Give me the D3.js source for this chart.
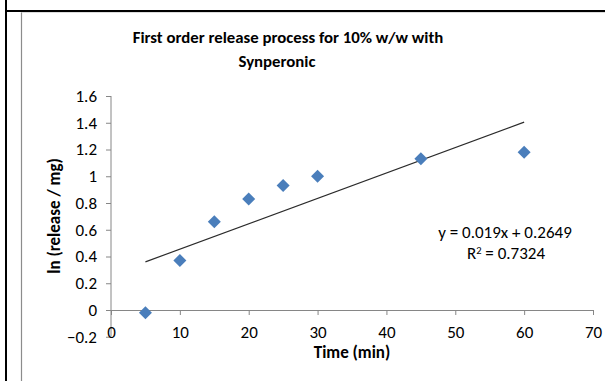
<!DOCTYPE html>
<html>
<head>
<meta charset="utf-8">
<script src="https://cdn.jsdelivr.net/npm/d3@7"></script>
<style>
  html, body { margin: 0; padding: 0; background: #fff; }
  svg { display: block; }
  text { font-family: Calibri, Carlito, Lato, "Open Sans", sans-serif; fill: #000; }
</style>
</head>
<body>
<svg id="chart" width="605" height="381"></svg>
<script>
// Release data: time (min) vs ln(release / mg)
const timeMin = [5, 10, 15, 20, 25, 30, 45, 60];
const lnRelease = [-0.02, 0.37, 0.66, 0.83, 0.93, 1.00, 1.13, 1.18];

// Linear trendline reported on the chart
const slope = 0.019;
const intercept = 0.2649;
const rSquared = 0.7324;

const xTicks = [0, 10, 20, 30, 40, 50, 60, 70];
const yTicks = [-0.2, 0, 0.2, 0.4, 0.6, 0.8, 1, 1.2, 1.4, 1.6];

const titleLines = ["First order release process for 10% w/w with", "Synperonic"];
const xTitle = "Time (min)";
const yTitle = "ln (release / mg)";

const fontStack = "Calibri, Carlito, Lato, sans-serif";
const labelSize = 17;

const svg = d3.select("#chart");

// Page frame lines
svg.append("line").attr("x1", 6).attr("x2", 6).attr("y1", 0).attr("y2", 381)
  .attr("stroke", "#000").attr("stroke-width", 2);
svg.append("line").attr("x1", 5).attr("x2", 605).attr("y1", 11).attr("y2", 11)
  .attr("stroke", "#000").attr("stroke-width", 2);
// Chart area border
svg.append("line").attr("x1", 21.5).attr("x2", 21.5).attr("y1", 12).attr("y2", 381)
  .attr("stroke", "#8c8c8c").attr("stroke-width", 1.2);
svg.append("line").attr("x1", 21.5).attr("x2", 605).attr("y1", 12.5).attr("y2", 12.5)
  .attr("stroke", "#dcdcdc").attr("stroke-width", 1);

const x = d3.scaleLinear().domain([0, 70]).range([111, 593]);
const y = d3.scaleLinear().domain([-0.2, 1.6]).range([336.75, 96]);

const axisColor = "#868686";

// Y axis at x = 0
const yAxis = svg.append("g").attr("transform", `translate(${x(0)},0)`)
  .call(d3.axisLeft(y).tickValues(yTicks).tickSize(5).tickPadding(9)
    .tickFormat(d => d3.format("")(+d.toFixed(1))));
yAxis.select(".domain").attr("stroke", axisColor).attr("d", `M0,${y(-0.2)}V${y(1.6)}`);
yAxis.selectAll(".tick line").attr("stroke", axisColor);
yAxis.selectAll(".tick text").attr("font-size", labelSize).attr("fill", "#000")
  .style("font-family", fontStack);

// X axis along y = 0, labels placed low
const xAxis = svg.append("g").attr("transform", `translate(0,${y(0)})`)
  .call(d3.axisBottom(x).tickValues(xTicks).tickSize(5).tickPadding(11).tickSizeOuter(0));
xAxis.select(".domain").attr("stroke", axisColor);
xAxis.selectAll(".tick line").attr("stroke", axisColor);
xAxis.selectAll(".tick text").attr("font-size", labelSize).attr("fill", "#000")
  .style("font-family", fontStack);

// Trendline
svg.append("line")
  .attr("x1", x(timeMin[0])).attr("y1", y(slope * timeMin[0] + intercept))
  .attr("x2", x(timeMin[timeMin.length - 1])).attr("y2", y(slope * timeMin[timeMin.length - 1] + intercept))
  .attr("stroke", "#2b2b2b").attr("stroke-width", 1.2);

// Diamond markers
const diamond = "M0,-6.5L6.5,0L0,6.5L-6.5,0Z";
svg.append("g").selectAll("path").data(timeMin).join("path")
  .attr("d", diamond)
  .attr("transform", (d, i) => `translate(${x(d)},${y(lnRelease[i])})`)
  .attr("fill", "#4a7ebb");

// Title
svg.append("text").attr("x", 288).attr("y", 43).attr("text-anchor", "middle")
  .attr("font-size", 16.8).attr("font-weight", "bold").text(titleLines[0]);
svg.append("text").attr("x", 277).attr("y", 67).attr("text-anchor", "middle")
  .attr("font-size", 16.8).attr("font-weight", "bold").text(titleLines[1]);

// Axis titles
svg.append("text").attr("x", 352).attr("y", 358).attr("text-anchor", "middle")
  .attr("font-size", labelSize).attr("font-weight", "bold").text(xTitle);
svg.append("text").attr("transform", "translate(60,216) rotate(-90)")
  .attr("text-anchor", "middle").attr("font-size", labelSize).attr("font-weight", "bold").text(yTitle);

// Trendline equation
svg.append("text").attr("x", 505).attr("y", 238).attr("text-anchor", "middle")
  .attr("font-size", labelSize).text(`y = ${slope}x + ${intercept}`);
const r2 = svg.append("text").attr("x", 506).attr("y", 259).attr("text-anchor", "middle").attr("font-size", labelSize);
r2.append("tspan").text("R");
r2.append("tspan").attr("dy", -5).attr("font-size", 10.5).text("2");
r2.append("tspan").attr("dy", 5).text(` = ${rSquared}`);
</script>
</body>
</html>
